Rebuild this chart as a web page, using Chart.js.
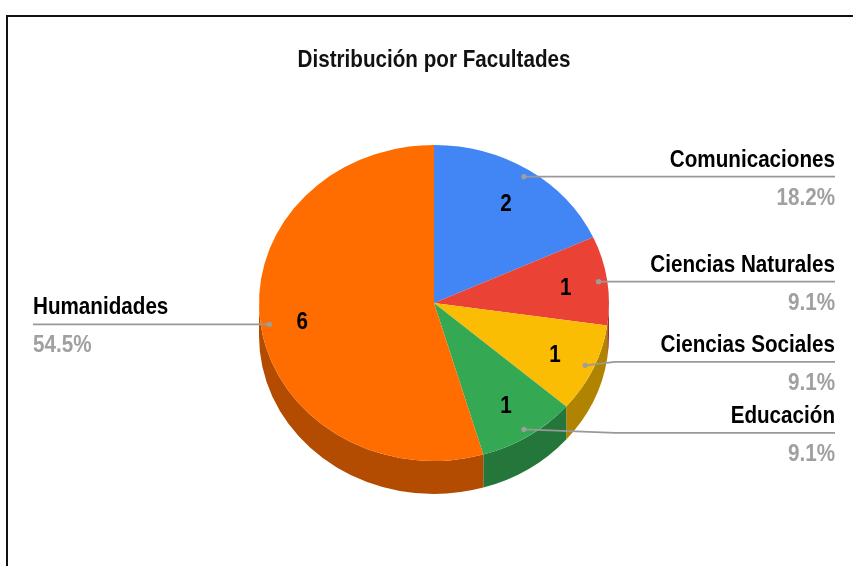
<!DOCTYPE html>
<html>
<head>
<meta charset="utf-8">
<script src="https://cdn.jsdelivr.net/npm/chart.js@4.4.1/dist/chart.umd.min.js"></script>
<style>
  html, body { margin: 0; padding: 0; background: #fff; overflow: hidden; }
  #frame {
    position: absolute; left: 6px; top: 15px; width: 900px; height: 600px;
    border-left: 2px solid #111; border-top: 2px solid #111;
  }
  #pie { position: absolute; left: 0; top: 0; }
</style>
</head>
<body>
<div id="frame"></div>
<canvas id="pie" width="853" height="566"></canvas>
<script>
const titulo = "Distribución por Facultades";
const facultades = ["Comunicaciones", "Ciencias Naturales", "Ciencias Sociales", "Educación", "Humanidades"];
const cantidades = [2, 1, 1, 1, 6];
const colores = ["#4285f4", "#ea4335", "#fbbc04", "#34a853", "#ff6d01"];
const coloresLado = ["#2e5daa", "#a32f25", "#b08400", "#25763a", "#b34c00"];

const FONT = "bold 24px 'Liberation Sans', Arial, sans-serif";
const SQUEEZE = 0.86; // the original uses a narrow face
const TILT = 0.903;   // vertical squash of the pie
const DEPTH = 33;     // thickness of the 3d side

function narrowText(ctx, text, x, y) {
  const w = ctx.measureText(text).width;
  ctx.fillText(text, x, y, w * SQUEEZE);
}

// draws the side of the pie and squashes the top face
const pie3d = {
  id: "pie3d",
  beforeDatasetsDraw(chart) {
    const ctx = chart.ctx;
    const arcs = chart.getDatasetMeta(0).data;
    const { x, y, outerRadius: r } = arcs[0];
    arcs.forEach((arc, i) => {
      const a1 = Math.max(arc.startAngle, 0);
      const a2 = Math.min(arc.endAngle, Math.PI);
      if (a2 <= a1) return;
      ctx.beginPath();
      ctx.ellipse(x, y, r, r * TILT, 0, a1, a2);
      ctx.ellipse(x, y + DEPTH, r, r * TILT, 0, a2, a1, true);
      ctx.closePath();
      ctx.fillStyle = coloresLado[i];
      ctx.fill();
    });
    ctx.save();
    ctx.translate(x, y);
    ctx.scale(1, TILT);
    ctx.translate(-x, -y);
  },
  afterDatasetsDraw(chart) {
    chart.ctx.restore();
  }
};

// title, numbers inside the slices and the labels with leader lines
const etiquetas = {
  id: "etiquetas",
  afterDraw(chart) {
    const ctx = chart.ctx;
    const arcs = chart.getDatasetMeta(0).data;
    const { x: cx, y: cy, outerRadius: r } = arcs[0];
    const total = cantidades.reduce((a, b) => a + b, 0);

    ctx.save();
    ctx.font = FONT;
    ctx.fillStyle = "#111";
    ctx.textAlign = "center";
    ctx.textBaseline = "alphabetic";
    narrowText(ctx, titulo, cx, 67);

    const items = arcs.map((arc, i) => {
      const mid = (arc.startAngle + arc.endAngle) / 2;
      const dx = cx + Math.cos(mid) * r * 0.95;
      const dy = cy + Math.sin(mid) * r * 0.95 * TILT;
      return { i, mid, dx, dy, lineY: dy, right: Math.cos(mid) >= 0 };
    });

    // spread right side labels that are too close
    const right = items.filter(d => d.right).sort((a, b) => a.dy - b.dy);
    for (let k = 1; k < right.length; k++) {
      const gap = right[k].lineY - right[k - 1].lineY;
      if (gap < 71) {
        const push = (71 - gap) / 2;
        right[k - 1].lineY -= push;
        right[k].lineY += push;
      }
    }

    items.forEach(d => {
      // value inside slice
      const nx = cx + Math.cos(d.mid) * r * 0.76;
      const ny = cy + Math.sin(d.mid) * r * 0.76 * TILT;
      ctx.fillStyle = "#000";
      ctx.textAlign = "center";
      ctx.textBaseline = "alphabetic";
      narrowText(ctx, String(cantidades[d.i]), nx, ny + 9);

      // leader line
      ctx.strokeStyle = "#999";
      ctx.lineWidth = 1.7;
      ctx.beginPath();
      ctx.moveTo(d.dx, d.dy);
      if (d.right) {
        ctx.lineTo(Math.max(d.dx, cx + r + 6), d.lineY);
        ctx.lineTo(835, d.lineY);
      } else {
        ctx.lineTo(Math.min(d.dx, cx - r - 6), d.lineY);
        ctx.lineTo(33, d.lineY);
      }
      ctx.stroke();
      ctx.fillStyle = "#9e9e9e";
      ctx.beginPath();
      ctx.arc(d.dx, d.dy, 2.6, 0, Math.PI * 2);
      ctx.fill();

      // name and percentage
      const tx = d.right ? 835 : 33;
      ctx.textAlign = d.right ? "right" : "left";
      ctx.fillStyle = "#000";
      narrowText(ctx, facultades[d.i], tx, d.lineY - 10);
      ctx.fillStyle = "#a0a0a0";
      narrowText(ctx, (cantidades[d.i] / total * 100).toFixed(1) + "%", tx, d.lineY + 28);
    });
    ctx.restore();
  }
};

new Chart(document.getElementById("pie"), {
  type: "pie",
  data: {
    labels: facultades,
    datasets: [{
      data: cantidades,
      backgroundColor: colores,
      borderWidth: 0
    }]
  },
  options: {
    responsive: false,
    animation: false,
    events: [],
    layout: { padding: { left: 259, right: 244, top: 128, bottom: 88 } },
    plugins: {
      legend: { display: false },
      tooltip: { enabled: false },
      title: { display: false }
    }
  },
  plugins: [pie3d, etiquetas]
});
</script>
</body>
</html>
